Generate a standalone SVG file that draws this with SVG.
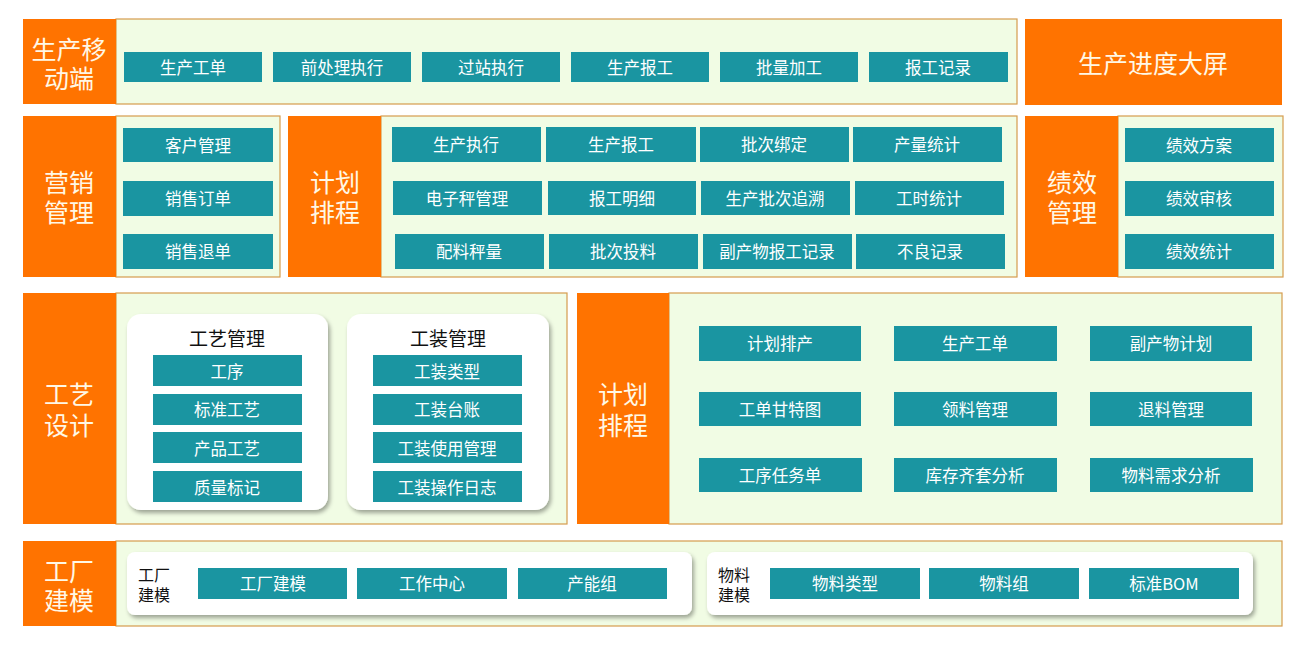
<svg xmlns="http://www.w3.org/2000/svg" width="1301" height="645" viewBox="0 0 1301 645">
<defs>
<filter id="sh" x="-10%" y="-10%" width="125%" height="130%">
<feDropShadow dx="2" dy="3" stdDeviation="2" flood-color="#000" flood-opacity="0.35"/>
</filter>
</defs>
<style>
text{font-family:"Noto Sans CJK SC","Microsoft YaHei",sans-serif;text-anchor:middle;dominant-baseline:central}
.or{fill:#FF7300}
.pn{fill:#F1FCE4;stroke:#D69C4E;stroke-width:1.2}
.tl{fill:#1A95A1}
.wb{fill:#fff;filter:url(#sh)}
.lb{fill:#FFF8E6;font-size:25px}
.bt{fill:#fff;font-size:16.5px}
.tt{fill:#111;font-size:19px}
.st{fill:#111;font-size:16px;text-anchor:start}
</style>
<rect width="1301" height="645" fill="#fff"/>

<g id="mobile">
<rect class="pn" x="116" y="19" width="901" height="85"/>
<rect class="or" x="23" y="19" width="93" height="85"/>
<text class="lb"><tspan x="69" y="48">生产移</tspan><tspan x="69" y="77">动端</tspan></text>
<rect class="tl" x="124" y="52" width="138" height="30"/><text class="bt" x="193" y="67">生产工单</text>
<rect class="tl" x="273" y="52" width="138" height="30"/><text class="bt" x="342" y="67">前处理执行</text>
<rect class="tl" x="422" y="52" width="138" height="30"/><text class="bt" x="491" y="67">过站执行</text>
<rect class="tl" x="571" y="52" width="138" height="30"/><text class="bt" x="640" y="67">生产报工</text>
<rect class="tl" x="720" y="52" width="138" height="30"/><text class="bt" x="789" y="67">批量加工</text>
<rect class="tl" x="869" y="52" width="139" height="30"/><text class="bt" x="938" y="67">报工记录</text>
</g>

<g id="screen">
<rect class="or" x="1025" y="19" width="257" height="86"/>
<text class="lb" x="1153" y="62">生产进度大屏</text>
</g>

<g id="marketing">
<rect class="pn" x="116" y="116" width="164" height="161"/>
<rect class="or" x="23" y="116" width="93" height="161"/>
<text class="lb"><tspan x="69" y="181">营销</tspan><tspan x="69" y="211">管理</tspan></text>
<rect class="tl" x="123" y="128" width="150" height="34"/><text class="bt" x="198" y="145">客户管理</text>
<rect class="tl" x="123" y="181" width="150" height="35"/><text class="bt" x="198" y="198">销售订单</text>
<rect class="tl" x="123" y="234" width="150" height="35"/><text class="bt" x="198" y="251">销售退单</text>
</g>

<g id="exec">
<rect class="pn" x="381" y="116" width="636" height="161"/>
<rect class="or" x="288" y="116" width="93" height="161"/>
<text class="lb"><tspan x="335" y="181">计划</tspan><tspan x="335" y="211">排程</tspan></text>
<rect class="tl" x="392" y="127" width="149" height="35"/><text class="bt" x="466" y="144">生产执行</text>
<rect class="tl" x="546" y="127" width="150" height="35"/><text class="bt" x="621" y="144">生产报工</text>
<rect class="tl" x="700" y="127" width="149" height="35"/><text class="bt" x="774" y="144">批次绑定</text>
<rect class="tl" x="853" y="127" width="149" height="35"/><text class="bt" x="927" y="144">产量统计</text>
<rect class="tl" x="393" y="181" width="149" height="34"/><text class="bt" x="467" y="198">电子秤管理</text>
<rect class="tl" x="548" y="181" width="148" height="34"/><text class="bt" x="622" y="198">报工明细</text>
<rect class="tl" x="701" y="181" width="149" height="34"/><text class="bt" x="775" y="198">生产批次追溯</text>
<rect class="tl" x="855" y="181" width="149" height="34"/><text class="bt" x="929" y="198">工时统计</text>
<rect class="tl" x="395" y="234" width="149" height="35"/><text class="bt" x="469" y="251">配料秤量</text>
<rect class="tl" x="549" y="234" width="149" height="35"/><text class="bt" x="623" y="251">批次投料</text>
<rect class="tl" x="703" y="234" width="149" height="35"/><text class="bt" x="777" y="251">副产物报工记录</text>
<rect class="tl" x="856" y="234" width="149" height="35"/><text class="bt" x="930" y="251">不良记录</text>
</g>

<g id="performance">
<rect class="pn" x="1118" y="116" width="165" height="161"/>
<rect class="or" x="1025" y="116" width="93" height="161"/>
<text class="lb"><tspan x="1072" y="181">绩效</tspan><tspan x="1072" y="211">管理</tspan></text>
<rect class="tl" x="1125" y="128" width="149" height="34"/><text class="bt" x="1199" y="145">绩效方案</text>
<rect class="tl" x="1125" y="181" width="149" height="35"/><text class="bt" x="1199" y="198">绩效审核</text>
<rect class="tl" x="1125" y="234" width="149" height="35"/><text class="bt" x="1199" y="251">绩效统计</text>
</g>

<g id="process">
<rect class="pn" x="116" y="293" width="451" height="231"/>
<rect class="or" x="23" y="293" width="93" height="231"/>
<text class="lb"><tspan x="69" y="393">工艺</tspan><tspan x="69" y="424">设计</tspan></text>
<g id="craft">
<rect class="wb" x="127" y="314" width="201" height="196" rx="14"/>
<text class="tt" x="227" y="337">工艺管理</text>
<rect class="tl" x="153" y="355" width="149" height="31"/><text class="bt" x="227" y="371">工序</text>
<rect class="tl" x="153" y="394" width="149" height="31"/><text class="bt" x="227" y="409">标准工艺</text>
<rect class="tl" x="153" y="432" width="149" height="31"/><text class="bt" x="227" y="448">产品工艺</text>
<rect class="tl" x="153" y="471" width="149" height="31"/><text class="bt" x="227" y="487">质量标记</text>
</g>
<g id="tooling">
<rect class="wb" x="347" y="314" width="202" height="196" rx="14"/>
<text class="tt" x="448" y="337">工装管理</text>
<rect class="tl" x="373" y="355" width="149" height="31"/><text class="bt" x="447" y="371">工装类型</text>
<rect class="tl" x="373" y="394" width="149" height="31"/><text class="bt" x="447" y="409">工装台账</text>
<rect class="tl" x="373" y="432" width="149" height="31"/><text class="bt" x="447" y="448">工装使用管理</text>
<rect class="tl" x="373" y="471" width="149" height="31"/><text class="bt" x="447" y="487">工装操作日志</text>
</g>
</g>

<g id="planning">
<rect class="pn" x="669" y="293" width="613" height="231"/>
<rect class="or" x="577" y="293" width="92" height="231"/>
<text class="lb"><tspan x="623" y="393">计划</tspan><tspan x="623" y="424">排程</tspan></text>
<rect class="tl" x="699" y="326" width="162" height="35"/><text class="bt" x="780" y="343">计划排产</text>
<rect class="tl" x="894" y="326" width="163" height="35"/><text class="bt" x="975" y="343">生产工单</text>
<rect class="tl" x="1090" y="326" width="162" height="35"/><text class="bt" x="1171" y="343">副产物计划</text>
<rect class="tl" x="699" y="392" width="162" height="34"/><text class="bt" x="780" y="409">工单甘特图</text>
<rect class="tl" x="894" y="392" width="163" height="34"/><text class="bt" x="975" y="409">领料管理</text>
<rect class="tl" x="1090" y="392" width="162" height="34"/><text class="bt" x="1171" y="409">退料管理</text>
<rect class="tl" x="699" y="458" width="163" height="34"/><text class="bt" x="780" y="475">工序任务单</text>
<rect class="tl" x="894" y="458" width="163" height="34"/><text class="bt" x="975" y="475">库存齐套分析</text>
<rect class="tl" x="1090" y="458" width="163" height="34"/><text class="bt" x="1171" y="475">物料需求分析</text>
</g>

<g id="factory">
<rect class="pn" x="116" y="541" width="1166" height="85"/>
<rect class="or" x="23" y="541" width="93" height="85"/>
<text class="lb"><tspan x="69" y="570">工厂</tspan><tspan x="69" y="599">建模</tspan></text>
<g id="factory-model">
<rect class="wb" x="127" y="552" width="565" height="63" rx="8"/>
<text class="st"><tspan x="138" y="574">工厂</tspan><tspan x="138" y="594">建模</tspan></text>
<rect class="tl" x="198" y="568" width="149" height="31"/><text class="bt" x="273" y="583">工厂建模</text>
<rect class="tl" x="357" y="568" width="150" height="31"/><text class="bt" x="432" y="583">工作中心</text>
<rect class="tl" x="518" y="568" width="149" height="31"/><text class="bt" x="592" y="583">产能组</text>
</g>
<g id="material-model">
<rect class="wb" x="707" y="552" width="546" height="63" rx="8"/>
<text class="st"><tspan x="718" y="574">物料</tspan><tspan x="718" y="594">建模</tspan></text>
<rect class="tl" x="770" y="568" width="150" height="31"/><text class="bt" x="845" y="583">物料类型</text>
<rect class="tl" x="929" y="568" width="150" height="31"/><text class="bt" x="1004" y="583">物料组</text>
<rect class="tl" x="1089" y="568" width="150" height="31"/><text class="bt" x="1164" y="583">标准BOM</text>
</g>
</g>

<g id="connectors"/>
</svg>
